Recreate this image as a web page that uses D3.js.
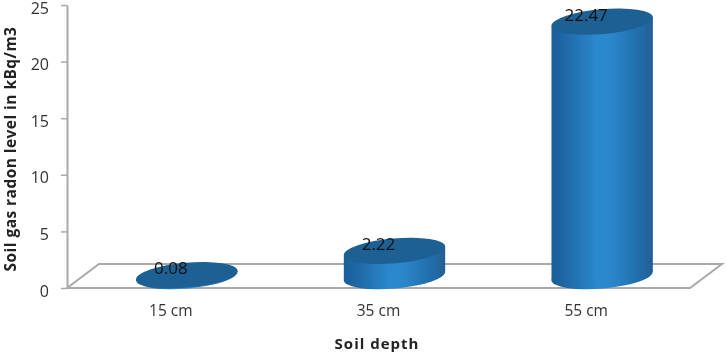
<!DOCTYPE html>
<html>
<head>
    <title>Soil gas radon level</title>
    <script src="https://d3js.org/d3.v7.min.js"></script>
    <style>
        * { margin: 0; padding: 0; }
        html, body { background: #fff; overflow: hidden; }
        text { font-family: 'Open Sans', sans-serif; fill: #222; }
        .axis-line { stroke: #a9a9a9; stroke-width: 2px; fill: none; }
    </style>
</head>
<body>
<div id="chart"></div>
<script>
    const categories = ["15 cm", "35 cm", "55 cm"];
    const radonValues = [0.08, 2.22, 22.47];
    const yTicks = [0, 5, 10, 15, 20, 25];

    const width = 726, height = 356;
    const plot = {left: 67, right: 690, top: 5, bottom: 288};
    // 3d floor offset
    const depth = {x: 32, y: -24};
    const barOffset = {x: 16, y: -12};

    const svg = d3.select("#chart").append("svg")
        .attr("width", width)
        .attr("height", height);

    const x = d3.scaleBand().domain(categories).range([plot.left, plot.right]);
    const y = d3.scaleLinear().domain([0, 25]).range([plot.bottom, plot.top]);

    const defs = svg.append("defs");
    const grad = defs.append("linearGradient").attr("id", "side");
    [[0, "#1d5f97"], [0.15, "#2069a8"], [0.45, "#2a89cd"], [0.6, "#2a86c9"], [0.9, "#2069a6"], [1, "#205f92"]]
        .forEach(s => grad.append("stop").attr("offset", s[0]).attr("stop-color", s[1]));
    defs.append("filter").attr("id", "soft")
        .attr("filterUnits", "userSpaceOnUse")
        .attr("x", 0).attr("y", 0).attr("width", width).attr("height", height)
        .append("feGaussianBlur").attr("stdDeviation", 0.5);

    const g = svg.append("g").attr("filter", "url(#soft)");

    // floor
    g.append("path").attr("class", "axis-line")
        .attr("d", `M${plot.left},${y(0)}L${plot.left + depth.x},${y(0) + depth.y}L${plot.right + depth.x},${y(0) + depth.y}L${plot.right},${y(0)}L${plot.left},${y(0)}`);

    // y axis
    const yAxis = g.append("g")
        .attr("transform", `translate(${plot.left},0)`)
        .call(d3.axisLeft(y).tickValues(yTicks).tickSize(6).tickSizeOuter(0).tickPadding(12));
    yAxis.select(".domain").attr("stroke", "#a9a9a9").attr("stroke-width", 2);
    yAxis.selectAll(".tick line").attr("stroke", "#a9a9a9").attr("stroke-width", 1.5);
    yAxis.selectAll("text").attr("dy", "0.5em").style("font-size", "16px").style("fill", "#333");

    // x axis labels
    const xAxis = g.append("g")
        .attr("transform", `translate(0,${plot.bottom})`)
        .call(d3.axisBottom(x).tickSize(0).tickPadding(17));
    xAxis.select(".domain").remove();
    xAxis.selectAll("text").style("font-size", "15.5px").style("fill", "#333");

    // cylinders: bottom ellipse, side, top ellipse
    const rx = x.bandwidth() * 0.245, ry = 12.5, tilt = -5;
    const rad = tilt * Math.PI / 180;
    const dx = rx * Math.cos(rad), dy = rx * Math.sin(rad);
    categories.forEach((c, i) => {
        const v = radonValues[i];
        const cx = x(c) + x.bandwidth() / 2 + barOffset.x;
        const y0 = y(0) + barOffset.y;
        const y1 = y(v) + barOffset.y;
        g.append("ellipse")
            .attr("cx", cx).attr("cy", y0)
            .attr("rx", rx).attr("ry", ry)
            .attr("transform", `rotate(${tilt},${cx},${y0})`)
            .attr("fill", "url(#side)");
        g.append("path")
            .attr("fill", "url(#side)")
            .attr("d", d3.line()([[cx - dx, y1 - dy], [cx - dx, y0 - dy], [cx + dx, y0 + dy], [cx + dx, y1 + dy]]) + "Z");
        g.append("ellipse")
            .attr("cx", cx).attr("cy", y1)
            .attr("rx", rx).attr("ry", ry)
            .attr("transform", `rotate(${tilt},${cx},${y1})`)
            .attr("fill", "#1f6094");
        g.append("text")
            .attr("x", x(c) + x.bandwidth() / 2)
            .attr("y", y(v) - 13)
            .attr("text-anchor", "middle")
            .style("font-size", "17px")
            .style("fill", "#111")
            .text(v);
    });

    // titles
    g.append("text")
        .attr("transform", "translate(16,149) rotate(-90)")
        .attr("text-anchor", "middle")
        .style("font-size", "15.5px").style("font-weight", "bold").style("letter-spacing", "0.45px")
        .text("Soil gas radon level in kBq/m3");
    g.append("text")
        .attr("x", 377).attr("y", 349)
        .attr("text-anchor", "middle")
        .style("font-size", "15px").style("font-weight", "bold").style("letter-spacing", "1px")
        .text("Soil depth");
</script>
</body>
</html>
